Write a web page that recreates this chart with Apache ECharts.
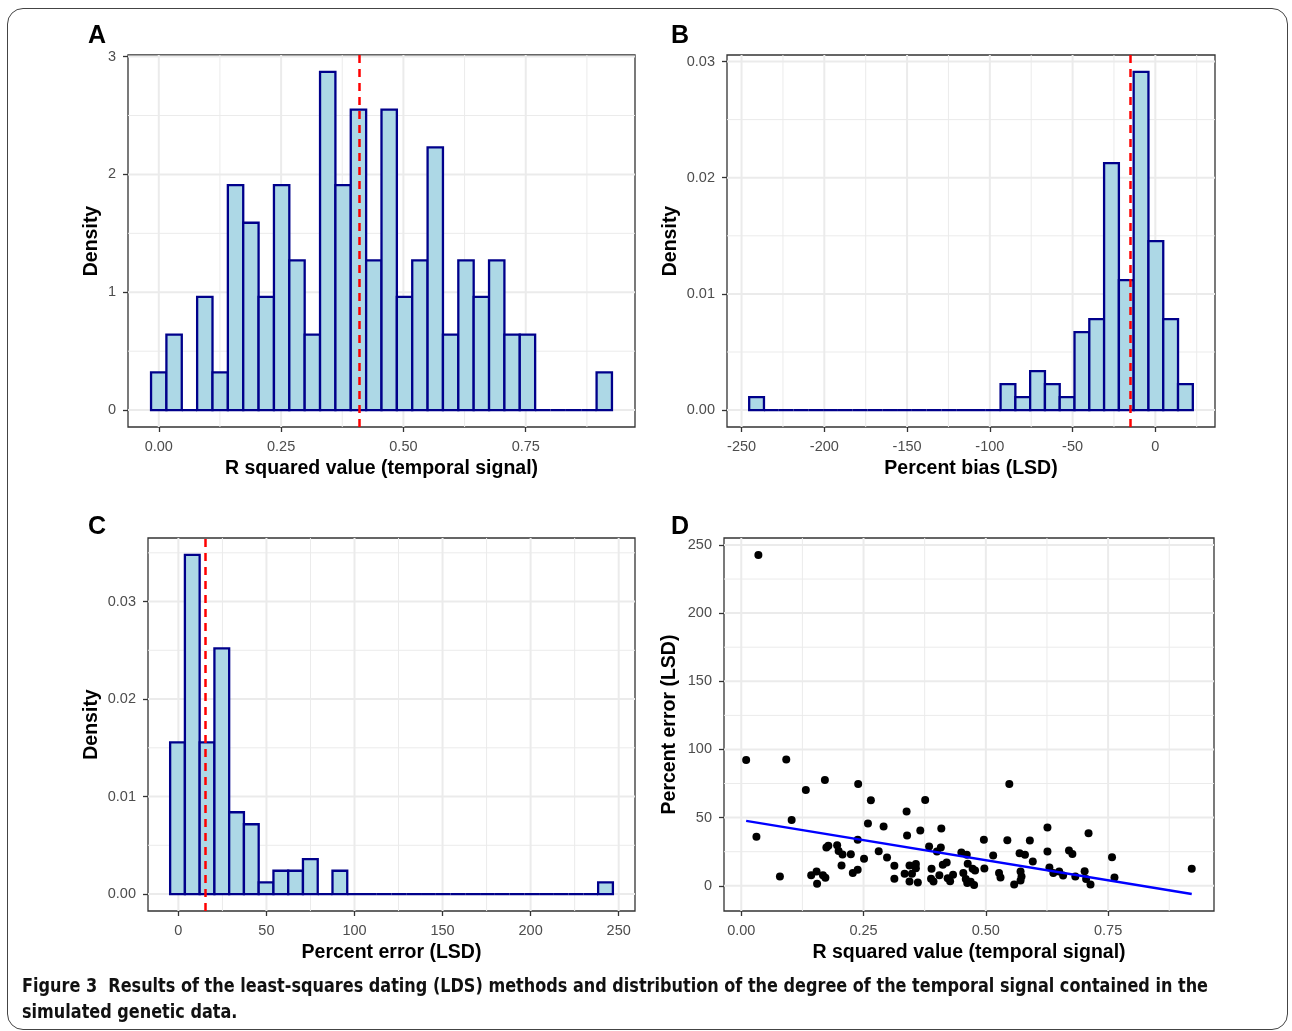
<!DOCTYPE html>
<html>
<head>
<meta charset="utf-8">
<script src="https://cdn.jsdelivr.net/npm/echarts@6/dist/echarts.min.js"></script>
<style>
  html, body { margin: 0; padding: 0; background: #fff; }
  #frame { position: absolute; left: 7px; top: 8px; width: 1281px; height: 1022px;
           border: 1.5px solid #444; border-radius: 16px; box-sizing: border-box; }
  #chart { position: absolute; left: 0; top: 0; width: 1292px; height: 1031px; }
  .cap { position: absolute; left: 22px; white-space: nowrap; font-family: 'Liberation Sans Narrow', 'DejaVu Sans Condensed', 'Liberation Sans', sans-serif;
         font-weight: bold; font-size: 20px; color: #111; transform-origin: 0 50%; line-height: 24px; }
</style>
</head>
<body>
<div id="frame"></div>
<div id="chart"></div>
<div class="cap" id="cap1" style="top:973px;"><span style="font-weight:900">Figure 3</span>&nbsp; Results of the least-squares dating (LDS) methods and distribution of the degree of the temporal signal contained in the</div>
<div class="cap" id="cap2" style="top:999px;">simulated genetic data.</div>
<script>
// ---------- DATA ----------
// Panel A: R squared value histogram (30 bins)
const aBinStart = -0.0158;
const aBinWidth = 0.0314;
const aDensity = [0.32,0.64,0,0.96,0.32,1.91,1.59,0.96,1.91,1.27,0.64,2.87,1.91,2.55,1.27,2.55,0.96,1.27,2.23,0.64,1.27,0.96,1.27,0.64,0.64,0,0,0,0,0.32];
const aMean = 0.405;
const aXTicks = [0, 0.25, 0.5, 0.75];
const aXMinor = [0.125, 0.375, 0.625, 0.875];
const aYTicks = [0, 1, 2, 3];
const aYMinor = [0.5, 1.5, 2.5];

// Panel B: Percent bias histogram
const bBinStart = -245.4;
const bBinWidth = 8.935;
const bDensity = [0.00112,0,0,0,0,0,0,0,0,0,0,0,0,0,0,0,0,0.00224,0.00112,0.00336,0.00224,0.00112,0.00671,0.00783,0.02126,0.01119,0.0291,0.01455,0.00783,0.00224];
const bMean = -15.1;
const bXTicks = [-250, -200, -150, -100, -50, 0];
const bXMinor = [-225, -175, -125, -75, -25, 25];
const bYTicks = [0, 0.01, 0.02, 0.03];
const bYMinor = [0.005, 0.015, 0.025];

// Panel C: Percent error histogram
const cBinStart = -4.68;
const cBinWidth = 8.38;
const cDensity = [0.01555,0.03478,0.01555,0.0252,0.00839,0.00716,0.00119,0.00239,0.00239,0.00358,0,0.00239,0,0,0,0,0,0,0,0,0,0,0,0,0,0,0,0,0,0.00119];
const cMean = 15.3;
const cXTicks = [0, 50, 100, 150, 200, 250];
const cXMinor = [25, 75, 125, 175, 225];
const cYTicks = [0, 0.01, 0.02, 0.03];
const cYMinor = [0.005, 0.015, 0.025, 0.035];

// Panel D: scatter R squared vs percent error
const dR2 = [0.035,0.010,0.092,0.031,0.079,0.103,0.132,0.171,0.143,0.154,
  0.155,0.167,0.172,0.174,0.178,0.196,0.199,0.207,0.205,0.224,
  0.228,0.238,0.239,0.238,0.251,0.259,0.265,0.281,0.291,0.298,
  0.313,0.313,0.334,0.338,0.339,0.344,0.344,0.349,0.357,0.357,
  0.361,0.366,0.376,0.384,0.389,0.388,0.393,0.400,0.405,0.408,
  0.409,0.412,0.420,0.422,0.427,0.433,0.450,0.454,0.459,0.461,
  0.462,0.463,0.469,0.473,0.478,0.476,0.496,0.497,0.515,0.527,
  0.530,0.544,0.548,0.558,0.569,0.571,0.573,0.571,0.580,0.590,
  0.596,0.626,0.626,0.630,0.638,0.650,0.658,0.670,0.677,0.683,
  0.702,0.705,0.710,0.714,0.758,0.763,0.921];
const dErr = [242.7,92.2,92.7,35.9,6.8,48.3,70.2,77.6,7.8,10.5,
  1.5,7.8,5.9,28.0,29.3,29.8,25.6,22.9,14.9,23.2,
  9.3,11.7,74.6,33.7,19.8,45.6,62.7,25.4,43.4,20.7,
  14.6,5.1,8.8,54.4,36.8,14.9,3.2,8.8,15.9,12.9,
  2.4,40.5,62.9,28.8,12.4,5.1,3.2,25.1,7.8,28.0,
  42.0,15.4,17.1,5.6,3.4,8.0,24.4,9.3,4.9,22.7,
  2.0,16.1,2.9,12.4,11.2,0.5,33.7,12.7,22.2,9.3,
  6.1,33.4,74.6,1.0,23.9,10.5,6.8,3.9,22.7,33.2,
  17.8,42.7,25.1,13.4,9.3,10.5,7.6,25.9,23.4,6.8,
  10.7,4.9,38.5,1.0,21.0,6.1,12.4];
const dFitX = [0.010, 0.921];
const dFitY = [47.6, -6.1];
const dXTicks = [0, 0.25, 0.5, 0.75];
const dXMinor = [0.125, 0.375, 0.625, 0.875];
const dYTicks = [0, 50, 100, 150, 200, 250];
const dYMinor = [25, 75, 125, 175, 225];

// ---------- CHART ----------
const FONT = "'Liberation Sans', Arial, Helvetica, sans-serif";
const chart = echarts.init(document.getElementById('chart'), null, { renderer: 'canvas' });

function histData(start, width, dens) {
  return dens.map((d, i) => [start + i * width, start + (i + 1) * width, d]);
}
function histRender(params, api) {
  const p0 = api.coord([api.value(0), api.value(2)]);
  const p1 = api.coord([api.value(1), 0]);
  return {
    type: 'rect',
    shape: { x: p0[0], y: p0[1], width: p1[0] - p0[0], height: p1[1] - p0[1] },
    style: { fill: '#ADD8E6', stroke: '#00008B', lineWidth: 2.3 }
  };
}
function gridRender(xMaj, xMin, yMaj, yMin) {
  return function (params, api) {
    const cs = params.coordSys;
    const kids = [];
    const vline = (v, w) => {
      const x = api.coord([v, 0])[0];
      kids.push({ type: 'line', shape: { x1: x, y1: cs.y, x2: x, y2: cs.y + cs.height }, style: { stroke: '#EBEBEB', lineWidth: w } });
    };
    const hline = (v, w) => {
      const y = api.coord([0, v])[1];
      kids.push({ type: 'line', shape: { x1: cs.x, y1: y, x2: cs.x + cs.width, y2: y }, style: { stroke: '#EBEBEB', lineWidth: w } });
    };
    xMin.forEach(v => vline(v, 1)); yMin.forEach(v => hline(v, 1));
    xMaj.forEach(v => vline(v, 2)); yMaj.forEach(v => hline(v, 2));
    return { type: 'group', children: kids };
  };
}
function xAxis(gi, min, max, ticks, fmt, name) {
  return {
    type: 'value', gridIndex: gi, min: min, max: max,
    axisLine: { show: false, onZero: false },
    axisTick: { show: true, length: 5, lineStyle: { color: '#333', width: 1.3 }, customValues: ticks },
    axisLabel: { customValues: ticks, formatter: fmt, color: '#4D4D4D', fontSize: 14.5, fontFamily: FONT, margin: 12 },
    splitLine: { show: false },
    name: name, nameLocation: 'middle', nameGap: 32,
    nameTextStyle: { fontSize: 19.5, fontWeight: 'bold', color: '#000', fontFamily: FONT }
  };
}
function yAxis(gi, min, max, ticks, fmt, name, gap) {
  return {
    type: 'value', gridIndex: gi, min: min, max: max,
    axisLine: { show: false, onZero: false },
    axisTick: { show: true, length: 5, lineStyle: { color: '#333', width: 1.3 }, customValues: ticks },
    axisLabel: { customValues: ticks, formatter: fmt, color: '#4D4D4D', fontSize: 14.5, fontFamily: FONT, margin: 12 },
    splitLine: { show: false },
    name: name, nameLocation: 'middle', nameGap: gap,
    nameTextStyle: { fontSize: 19.5, fontWeight: 'bold', color: '#000', fontFamily: FONT }
  };
}
const f2 = v => v.toFixed(2);
const f0 = v => String(Math.round(v));
function meanLine(v) {
  return {
    silent: true, symbol: ['none', 'none'], label: { show: false },
    lineStyle: { color: '#FF0000', type: [8, 6], width: 2.5 },
    emphasis: { disabled: true },
    data: [{ xAxis: v }]
  };
}
const gridStyle = { show: true, borderColor: '#333', borderWidth: 1.3, backgroundColor: 'transparent' };

const option = {
  animation: false,
  grid: [
    Object.assign({ left: 128, top: 55, width: 507, height: 372 }, gridStyle),
    Object.assign({ left: 727, top: 55, width: 488, height: 372 }, gridStyle),
    Object.assign({ left: 148, top: 538, width: 487, height: 373 }, gridStyle),
    Object.assign({ left: 724, top: 538, width: 490, height: 373 }, gridStyle)
  ],
  xAxis: [
    xAxis(0, -0.0629, 0.9733, aXTicks, f2, 'R squared value (temporal signal)'),
    xAxis(1, -258.8, 36.05, bXTicks, f0, 'Percent bias (LSD)'),
    xAxis(2, -17.25, 259.27, cXTicks, f0, 'Percent error (LSD)'),
    xAxis(3, -0.0353, 0.9665, dXTicks, f2, 'R squared value (temporal signal)')
  ],
  yAxis: [
    yAxis(0, -0.1435, 3.0135, aYTicks, f0, 'Density', 26),
    yAxis(1, -0.001455, 0.03056, bYTicks, f2, 'Density', 46),
    yAxis(2, -0.00174, 0.03652, cYTicks, f2, 'Density', 46),
    yAxis(3, -18.5, 255.1, dYTicks, f0, 'Percent error (LSD)', 44)
  ],
  graphic: [
    { type: 'text', left: 88, top: 24, style: { text: 'A', font: 'bold 25px ' + FONT, fill: '#000' } },
    { type: 'text', left: 671, top: 24, style: { text: 'B', font: 'bold 25px ' + FONT, fill: '#000' } },
    { type: 'text', left: 88, top: 515, style: { text: 'C', font: 'bold 25px ' + FONT, fill: '#000' } },
    { type: 'text', left: 671, top: 515, style: { text: 'D', font: 'bold 25px ' + FONT, fill: '#000' } }
  ],
  series: [
    { type: 'custom', xAxisIndex: 0, yAxisIndex: 0, z: 1, silent: true, data: [[0, 0]], renderItem: gridRender(aXTicks, aXMinor, aYTicks, aYMinor) },
    { type: 'custom', xAxisIndex: 1, yAxisIndex: 1, z: 1, silent: true, data: [[0, 0]], renderItem: gridRender(bXTicks, bXMinor, bYTicks, bYMinor) },
    { type: 'custom', xAxisIndex: 2, yAxisIndex: 2, z: 1, silent: true, data: [[0, 0]], renderItem: gridRender(cXTicks, cXMinor, cYTicks, cYMinor) },
    { type: 'custom', xAxisIndex: 3, yAxisIndex: 3, z: 1, silent: true, data: [[0, 0]], renderItem: gridRender(dXTicks, dXMinor, dYTicks, dYMinor) },
    { type: 'custom', xAxisIndex: 0, yAxisIndex: 0, z: 2, silent: true, encode: { x: [0, 1], y: 2 },
      data: histData(aBinStart, aBinWidth, aDensity), renderItem: histRender, markLine: meanLine(aMean) },
    { type: 'custom', xAxisIndex: 1, yAxisIndex: 1, z: 2, silent: true, encode: { x: [0, 1], y: 2 },
      data: histData(bBinStart, bBinWidth, bDensity), renderItem: histRender, markLine: meanLine(bMean) },
    { type: 'custom', xAxisIndex: 2, yAxisIndex: 2, z: 2, silent: true, encode: { x: [0, 1], y: 2 },
      data: histData(cBinStart, cBinWidth, cDensity), renderItem: histRender, markLine: meanLine(cMean) },
    { type: 'scatter', xAxisIndex: 3, yAxisIndex: 3, z: 3, silent: true, symbolSize: 8,
      itemStyle: { color: '#000', opacity: 1 }, data: dR2.map((x, i) => [x, dErr[i]]) },
    { type: 'line', xAxisIndex: 3, yAxisIndex: 3, z: 4, silent: true, showSymbol: false,
      lineStyle: { color: '#0000FF', width: 2.5 }, data: dFitX.map((x, i) => [x, dFitY[i]]) }
  ]
};
chart.setOption(option);

// Fit caption width to the reference line length
(function () {
  const c1 = document.getElementById('cap1');
  const c2 = document.getElementById('cap2');
  const w = c1.getBoundingClientRect().width;
  const s = 1186 / w;
  c1.style.transform = 'scaleX(' + s + ')';
  c2.style.transform = 'scaleX(' + s + ')';
})();
</script>
</body>
</html>
